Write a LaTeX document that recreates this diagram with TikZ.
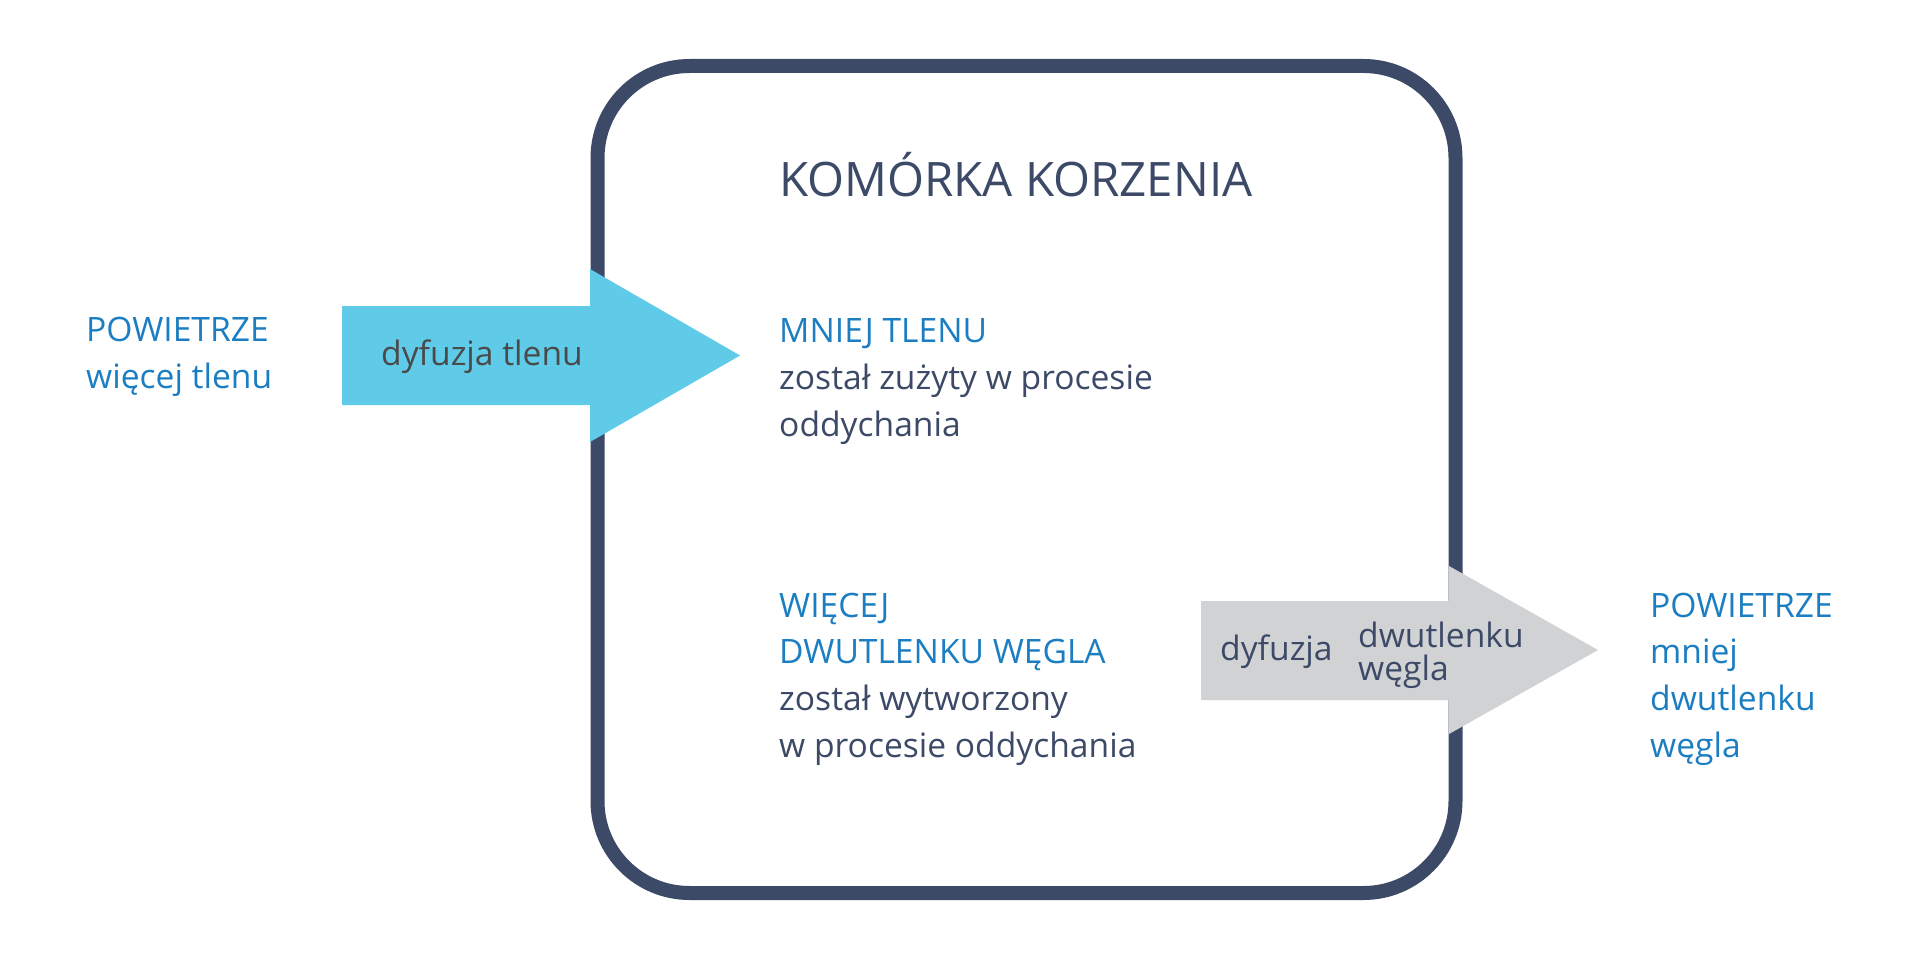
\documentclass[tikz,border=0pt]{standalone}
\usepackage{fontspec}
\setmainfont{Open Sans}
\definecolor{navy}{HTML}{3C4A67}
\definecolor{txtblue}{HTML}{1C7EC2}
\definecolor{arrblue}{HTML}{5FCBE8}
\definecolor{arrgray}{HTML}{D1D2D4}
\definecolor{darkgray}{HTML}{4A4A4A}
\tikzset{
  body/.style={anchor=base west, inner sep=0pt, font=\fontsize{33.6}{47}\selectfont},
  bluetxt/.style={body, text=txtblue},
  navytxt/.style={body, text=navy},
  titletxt/.style={anchor=base west, inner sep=0pt, text=navy, font=\fontsize{47.5}{58}\selectfont},
  cellbox/.style={draw=navy, line width=14pt, rounded corners=92pt, inner sep=0pt, fill=white}
}
\begin{document}
\begin{tikzpicture}[x=1pt,y=-1pt]
\useasboundingbox (0,0) rectangle (1920,960);
\fill[white] (0,0) rectangle (1920,960);
% cell
\node[cellbox, minimum width=858pt, minimum height=827pt] (cell) at (1026.5,479.5) {};
% arrows
\fill[arrblue] (342,306) -- (590,306) -- (590,269) -- (740,355.5) -- (590,442) -- (590,405) -- (342,405) -- cycle;
\fill[arrgray] (1201,601) -- (1449,601) -- (1449,566) -- (1598,650) -- (1449,734) -- (1449,700) -- (1201,700) -- cycle;
% texts
\node[bluetxt] (airL1) at (86,341) {POWIETRZE};
\node[bluetxt] (airL2) at (86,388) {więcej tlenu};
\node[titletxt] (title) at (779,197) {KOMÓRKA KORZENIA};
\node[bluetxt] (o1) at (779,342) {MNIEJ TLENU};
\node[navytxt] (o2) at (779,389) {został zużyty w procesie};
\node[navytxt] (o3) at (779,436) {oddychania};
\node[bluetxt] (c1) at (779,617) {WIĘCEJ};
\node[bluetxt] (c2) at (779,663) {DWUTLENKU WĘGLA};
\node[navytxt] (c3) at (779,710) {został wytworzony};
\node[navytxt] (c4) at (779,757) {w procesie oddychania};
\node[bluetxt] (airR1) at (1650,617) {POWIETRZE};
\node[bluetxt] (airR2) at (1650,663) {mniej};
\node[bluetxt] (airR3) at (1650,710) {dwutlenku};
\node[bluetxt] (airR4) at (1650,757) {węgla};
\node[body, text=darkgray] (d1) at (381,365) {dyfuzja tlenu};
\node[navytxt] (d2) at (1220,660) {dyfuzja};
\node[navytxt] (d3) at (1358,647) {dwutlenku};
\node[navytxt] (d4) at (1358,680) {węgla};
\end{tikzpicture}
\end{document}
